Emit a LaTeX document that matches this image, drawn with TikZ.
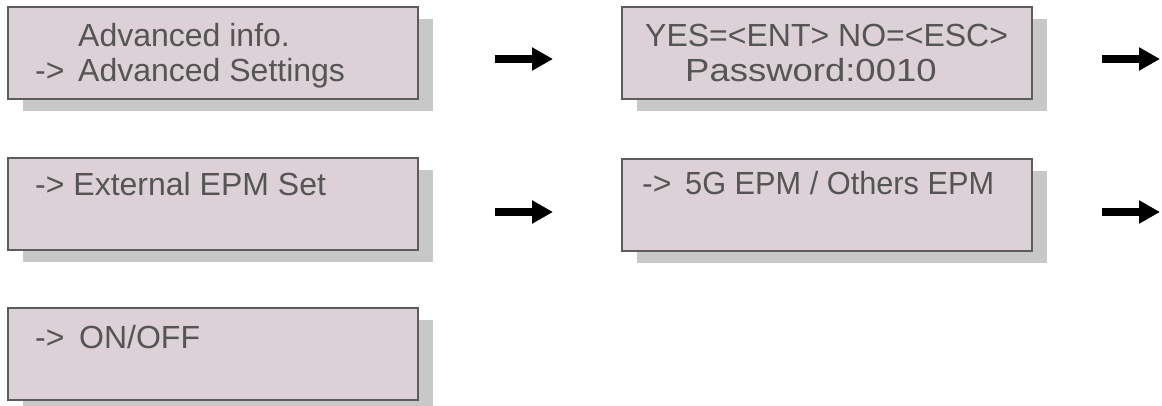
\documentclass[tikz,border=0pt]{standalone}
\usepackage{fontspec}
\setmainfont{Liberation Sans}
\usetikzlibrary{shadows,arrows.meta}
\definecolor{boxfill}{HTML}{DCD1D6}
\definecolor{boxline}{HTML}{5C5C5C}
\definecolor{shadowgray}{HTML}{C8C8C8}
\definecolor{txt}{HTML}{555555}
\tikzset{
  screen/.style={rectangle, draw=boxline, line width=2pt, fill=boxfill,
    minimum width=410pt, minimum height=92pt, inner sep=0pt,
    drop shadow={shadow xshift=15pt, shadow yshift=-12pt, fill=shadowgray, opacity=1}},
  lbl/.style={anchor=base west, inner sep=0pt, text=txt, font=\fontsize{32pt}{38pt}\selectfont},
  flow/.style={line width=8pt, -{Triangle[length=21pt 0 1, width=22pt 0 1]}, black}
}
\begin{document}
\begin{tikzpicture}[x=1pt,y=1pt]
\useasboundingbox (0,0) rectangle (1162,-406);
% boxes
\node[screen] (b1) at (213,-53) {};
\node[screen] (b2) at (827,-53) {};
\node[screen] (b3) at (213,-204) {};
\node[screen] (b4) at (827,-205) {};
\node[screen] (b5) at (213,-354) {};
% texts
\node[lbl] (t1a) at (78,-47) {Advanced info.};
\node[lbl] (t1b) at (35,-82) {->};
\node[lbl] (t1c) at (78,-82) {Advanced Settings};
\node[lbl] (t2a) at (645,-47) {YES=<ENT> NO=<ESC>};
\node[lbl] (t2b) at (685,-82) {\scalebox{1.14}[1]{Password:0010}};
\node[lbl] (t3a) at (35,-196) {-> External EPM Set};
\node[lbl] (t4a) at (642,-195) {->};
\node[lbl] (t4b) at (685,-195) {\scalebox{0.96}[1]{5G EPM / Others EPM}};
\node[lbl] (t5a) at (35,-348) {->};
\node[lbl] (t5b) at (79,-348) {ON/OFF};
% arrows
\coordinate (a1s) at (495,-59);
\coordinate (a1e) at (553,-59);
\coordinate (a2s) at (1102,-59);
\coordinate (a2e) at (1160,-59);
\coordinate (a3s) at (495,-212);
\coordinate (a3e) at (553,-212);
\coordinate (a4s) at (1102,-212);
\coordinate (a4e) at (1160,-212);
\draw[flow] (a1s) -- (a1e);
\draw[flow] (a2s) -- (a2e);
\draw[flow] (a3s) -- (a3e);
\draw[flow] (a4s) -- (a4e);
\end{tikzpicture}
\end{document}
